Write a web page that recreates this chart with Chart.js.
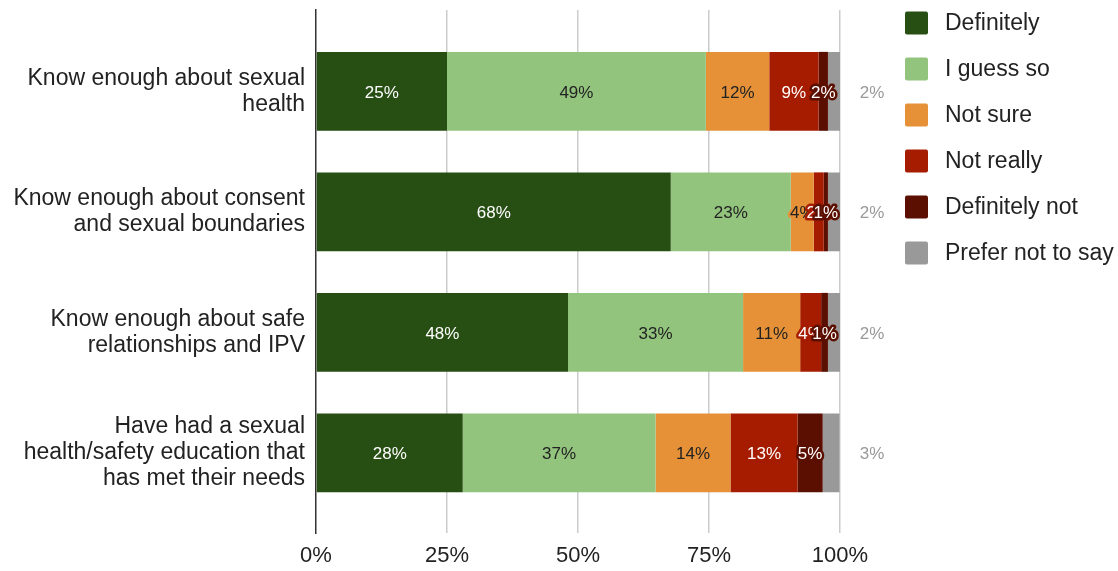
<!DOCTYPE html>
<html><head><meta charset="utf-8">
<script src="https://cdn.jsdelivr.net/npm/chart.js@4.4.0/dist/chart.umd.min.js"></script>
<style>html,body{margin:0;padding:0;background:#fff;} #wrap{width:1118px;height:571px;position:relative}</style>
</head><body><div id="wrap"><canvas id="c"></canvas></div>
<script>
const categories = [
  ["Know enough about sexual", "health"],
  ["Know enough about consent", "and sexual boundaries"],
  ["Know enough about safe", "relationships and IPV"],
  ["Have had a sexual", "health/safety education that", "has met their needs"]
];
const seriesNames = ["Definitely", "I guess so", "Not sure", "Not really", "Definitely not", "Prefer not to say"];
const definitely    = [25.0, 67.7, 48.1, 28.0];
const iGuessSo      = [49.4, 22.9, 33.4, 36.8];
const notSure       = [12.1, 4.4, 10.9, 14.3];
const notReally     = [9.4, 1.9, 4.0, 12.8];
const definitelyNot = [1.8, 0.8, 1.3, 4.8];
const preferNot     = [2.3, 2.3, 2.3, 3.2];
const xTickValues   = [0, 25, 50, 75, 100];

const seriesValues = [definitely, iGuessSo, notSure, notReally, definitelyNot, preferNot];
const colors = ['#274e13', '#93c47d', '#e69138', '#a61c00', '#5b0f00', '#999999'];
const labelColors = ['#ffffff', '#222222', '#222222', '#ffffff', '#ffffff', '#999999'];
const FONT = '"Liberation Sans", Arial, sans-serif';

const datasets = seriesNames.map((name, di) => ({
  label: name,
  data: seriesValues[di].map((v, i) => ({ x: v, y: i })),
  backgroundColor: colors[di],
  borderWidth: 0,
  categoryPercentage: 1,
  barPercentage: 0.655
}));

const labelPlugin = {
  id: 'barLabels',
  afterDatasetsDraw(chart) {
    const ctx = chart.ctx;
    ctx.save();
    ctx.font = '17px ' + FONT;
    ctx.textAlign = 'center';
    ctx.textBaseline = 'middle';
    ctx.lineJoin = 'round';
    chart.data.datasets.forEach((ds, di) => {
      const meta = chart.getDatasetMeta(di);
      meta.data.forEach((el, i) => {
        const v = seriesValues[di][i];
        const txt = Math.round(v) + '%';
        const ty = el.y + 1.5;
        if (di === seriesNames.length - 1) {
          ctx.fillStyle = labelColors[di];
          ctx.fillText(txt, chart.chartArea.right + 32, ty);
        } else {
          const cx = (el.x + el.base) / 2;
          ctx.strokeStyle = colors[di];
          ctx.lineWidth = 5;
          ctx.strokeText(txt, cx, ty);
          ctx.fillStyle = labelColors[di];
          ctx.fillText(txt, cx, ty);
        }
      });
    });
    ctx.restore();
  }
};

const legendPlugin = {
  id: 'sideLegend',
  afterDraw(chart) {
    const ctx = chart.ctx;
    ctx.save();
    ctx.font = '23px ' + FONT;
    ctx.textAlign = 'left';
    ctx.textBaseline = 'middle';
    seriesNames.forEach((name, i) => {
      const cy = 23 + i * 46;
      ctx.fillStyle = colors[i];
      ctx.beginPath();
      ctx.roundRect(905, cy - 11.5, 23, 23, 2);
      ctx.fill();
      ctx.fillStyle = '#222222';
      ctx.fillText(name, 945, cy + 1);
    });
    ctx.restore();
  }
};

new Chart(document.getElementById('c'), {
  type: 'bar',
  data: { datasets },
  options: {
    indexAxis: 'y',
    responsive: true,
    maintainAspectRatio: false,
    animation: false,
    layout: { padding: { top: 10, right: 278, left: 0, bottom: 0 } },
    plugins: { legend: { display: false }, tooltip: { enabled: false } },
    scales: {
      x: {
        type: 'linear',
        stacked: true,
        min: 0, max: 100,
        afterBuildTicks(scale) { scale.ticks = xTickValues.map(v => ({ value: v })); },
        afterFit(scale) { scale.height = 38; scale.paddingLeft = 0; scale.paddingRight = 0; },
        ticks: {
          callback: v => v + '%',
          font: { size: 22, family: FONT },
          color: '#222222',
          padding: 10,
          maxRotation: 0
        },
        grid: {
          color: c => (c.tick && c.tick.value === 0) ? 'rgba(0,0,0,0)' : '#cccccc',
          lineWidth: 1.5,
          drawTicks: false
        },
        border: { display: false }
      },
      y: {
        type: 'linear',
        stacked: true,
        reverse: true,
        offset: false,
        min: -0.675, max: 3.665,
        afterBuildTicks(scale) { scale.ticks = categories.map((c, i) => ({ value: i })); },
        afterFit(scale) { scale.width = 316; scale.paddingTop = 0; scale.paddingBottom = 0; },
        ticks: {
          callback: v => categories[v] || '',
          font: { size: 23, family: FONT, lineHeight: 1.13 },
          color: '#222222',
          padding: 11,
          autoSkip: false
        },
        grid: { display: false, drawTicks: false },
        border: { display: true, color: '#333333', width: 1.5 }
      }
    }
  },
  plugins: [labelPlugin, legendPlugin]
});
</script>
</body></html>
